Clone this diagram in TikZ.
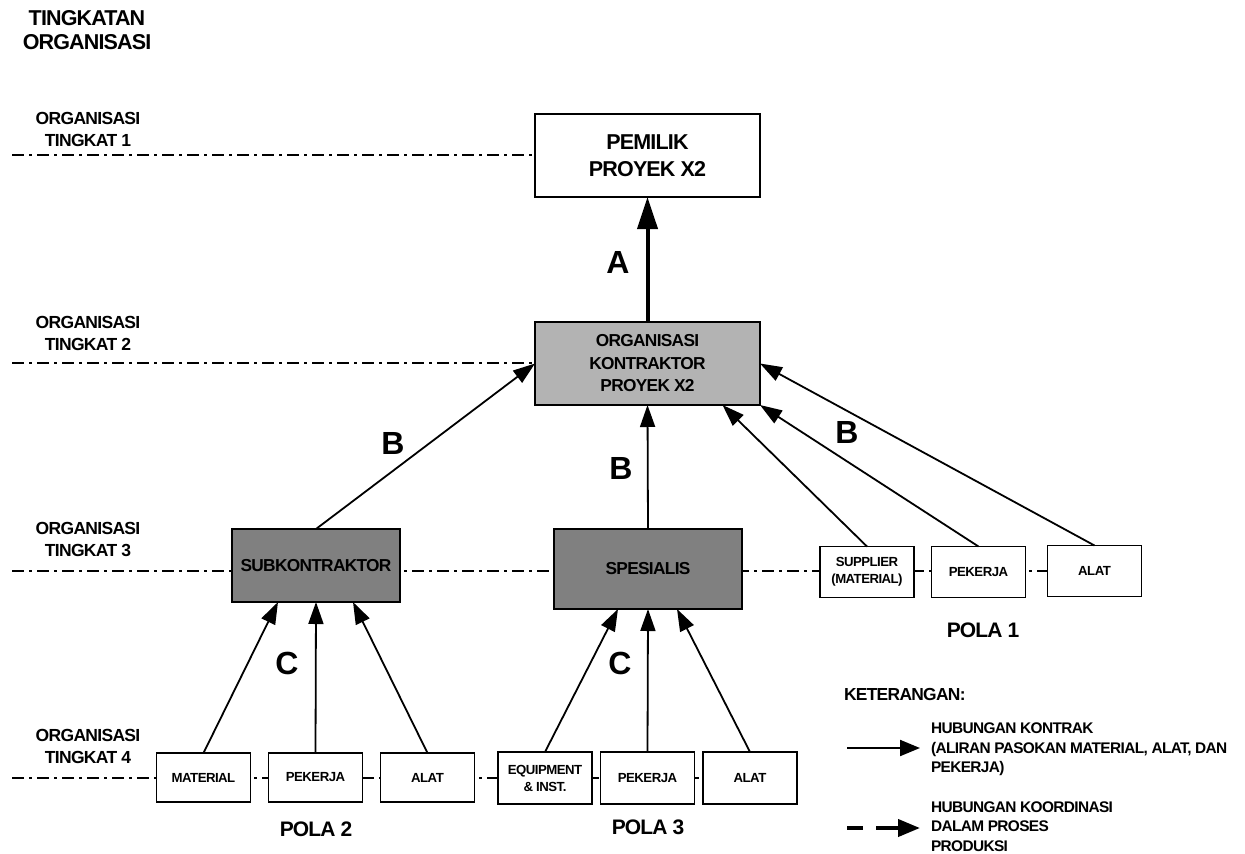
\documentclass[tikz,border=0pt]{standalone}
\usepackage{fontspec}
\setmainfont{Liberation Sans}[LetterSpace=-4]
\usetikzlibrary{arrows.meta,calc,backgrounds}
\definecolor{lightbox}{HTML}{B3B3B3}
\definecolor{darkbox}{HTML}{808080}
\begin{document}
\begin{tikzpicture}[x=1pt,y=-1pt,
  every node/.style={inner sep=0pt,outer sep=0pt},
  fs/.style n args={2}{font=\fontsize{#1}{#2}\selectfont\bfseries},
  bigbox/.style={draw,line width=2pt,fill=white,align=center,minimum width=225pt,minimum height=83pt,fs={21.5}{27}},
  midbox/.style={draw,line width=2pt,align=center,fill=darkbox,fs={17.3}{22.5}},
  smallbox/.style={draw,line width=1.3pt,fill=white,align=center,minimum width=94pt,minimum height=51pt,fs={13.2}{17}},
  levellabel/.style={align=center,fs={17.5}{22}},
  levelline/.style={line width=1.8pt,dash pattern=on 12pt off 5pt on 3pt off 5pt},
  contract/.style={line width=1.8pt,-{Triangle[length=22pt,width=15pt]}},
  letter/.style={fs={32}{32}},
  pola/.style={fs={21}{24}},
  legendtext/.style={anchor=west,align=left,fs={15.4}{19.5}}]

\useasboundingbox (0,0) rectangle (1245,854);

% title and level labels
\node[levellabel,font=\fontsize{21.5}{24}\selectfont\bfseries] (title) at (87,30) {TINGKATAN\\ORGANISASI};
\node[levellabel] (lev1) at (88,129) {ORGANISASI\\TINGKAT 1};
\node[levellabel] (lev2) at (88,333) {ORGANISASI\\TINGKAT 2};
\node[levellabel] (lev3) at (88,539.5) {ORGANISASI\\TINGKAT 3};
\node[levellabel] (lev4) at (88,746) {ORGANISASI\\TINGKAT 4};

% organisation boxes
\node[bigbox] (pemilik) at (647.5,155.5) {PEMILIK\\PROYEK X2};
\node[midbox,fill=lightbox,minimum width=225pt,minimum height=83pt] (kon) at (647.5,363.5) {ORGANISASI\\KONTRAKTOR\\PROYEK X2};
\node[midbox,minimum width=168pt,minimum height=73pt] (subk) at (316,565.5) {SUBKONTRAKTOR};
\node[midbox,minimum width=188pt,minimum height=80pt] (spes) at (648,569) {SPESIALIS};

% pola 1
\node[smallbox] (sup) at (867,572) {SUPPLIER\\(MATERIAL)};
\node[smallbox] (pek1) at (978.5,572) {PEKERJA};
\node[smallbox] (alat1) at (1094.5,571) {ALAT};
% pola 2
\node[smallbox,minimum height=49pt] (mat) at (203.5,777.5) {MATERIAL};
\node[smallbox,minimum height=49pt] (pek2) at (315.5,777.5) {PEKERJA};
\node[smallbox,minimum height=49pt] (alat2) at (427.5,777.5) {ALAT};
% pola 3
\node[smallbox,minimum height=52pt] (equip) at (545,778) {EQUIPMENT\\\& INST.};
\node[smallbox,minimum height=52pt] (pek3) at (647.5,778) {PEKERJA};
\node[smallbox,minimum height=52pt] (alat3) at (750,778) {ALAT};

% level lines behind the boxes
\coordinate (l1) at (12,155);
\coordinate (l2) at (12,363);
\coordinate (l3) at (12,571);
\coordinate (l4) at (12,778);
\begin{scope}[on background layer]
  \draw[levelline] (l1) -- (l1 -| pemilik.west);
  \draw[levelline] (l2) -- (l2 -| kon.west);
  \draw[levelline] (l3) -- (l3 -| alat1.west);
  \draw[levelline] (l4) -- (l4 -| alat3.west);
\end{scope}

% contract relations
\draw[line width=4pt,-{Triangle[length=32pt,width=20pt]}] (kon.north) -- (pemilik.south);
\draw[contract] (subk.north) -- (kon.west);
\draw[contract] (spes.north) -- (kon.south);
\draw[contract] (sup.north) -- ($(kon.south)+(75,0)$);
\draw[contract] (pek1.north) -- (kon.south east);
\draw[contract] (alat1.north) -- (kon.east);
\draw[contract] (mat.north) -- ($(subk.south)+(-38,0)$);
\draw[contract] (pek2.north) -- (subk.south);
\draw[contract] (alat2.north) -- ($(subk.south)+(37,0)$);
\draw[contract] (equip.north) -- ($(spes.south)+(-30,0)$);
\draw[contract] (pek3.north) -- (spes.south);
\draw[contract] (alat3.north) -- ($(spes.south)+(29,0)$);

% relation letters
\node[letter] (la) at (618,262) {A};
\node[letter] (lb1) at (393,443) {B};
\node[letter] (lb2) at (621,468) {B};
\node[letter] (lb3) at (847,432) {B};
\node[letter] (lc1) at (287,663) {C};
\node[letter] (lc2) at (620,663) {C};

% pattern names
\node[pola] (pola1) at (983,630) {POLA 1};
\node[pola] (pola2) at (316,829) {POLA 2};
\node[pola] (pola3) at (648,827) {POLA 3};

% legend
\node[anchor=west,fs={17.4}{20}] (ket) at (844,695) {KETERANGAN:};
\coordinate (ls1) at (847,748);
\coordinate (le1) at (920,748);
\draw[line width=2pt,-{Triangle[length=20pt,width=16pt]}] (ls1) -- (le1);
\node[legendtext] (lt1) at (931,749.5) {HUBUNGAN KONTRAK\\(ALIRAN PASOKAN MATERIAL, ALAT, DAN\\PEKERJA)};
\coordinate (ls2) at (847,828);
\coordinate (le2) at (920,828);
\draw[line width=4pt,dash pattern=on 16pt off 13pt on 40pt,-{Triangle[length=22pt,width=17pt]}] (ls2) -- (le2);
\node[legendtext] (lt2) at (931,826.5) {HUBUNGAN KOORDINASI\\DALAM PROSES\\PRODUKSI};
\end{tikzpicture}
\end{document}
